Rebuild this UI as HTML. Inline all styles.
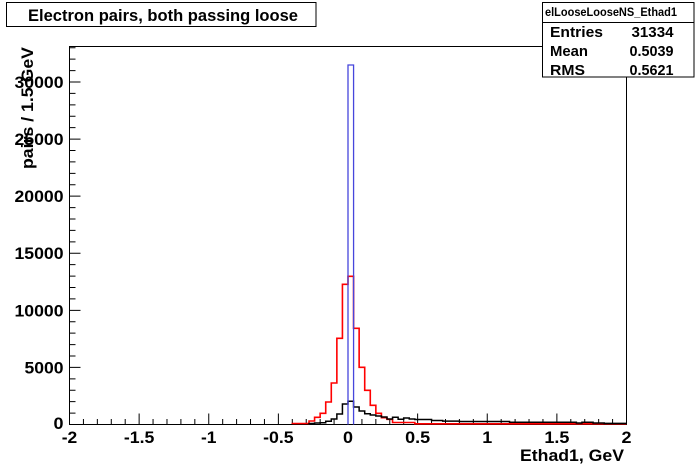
<!DOCTYPE html>
<html>
<head>
<meta charset="utf-8">
<style>
  html,body{margin:0;padding:0;background:#fff;}
  svg{display:block;}
  text{font-family:"Liberation Sans",Arial,Helvetica,sans-serif;font-weight:bold;fill:#000;}
</style>
</head>
<body>
<svg width="696" height="472" viewBox="0 0 696 472" xmlns="http://www.w3.org/2000/svg">
  <rect x="0" y="0" width="696" height="472" fill="#fff"/>

  <!-- frame -->
  <rect x="69.5" y="46.5" width="557" height="378" fill="none" stroke="#000" stroke-width="1"/>

  <!-- x ticks -->
  <path fill="none" stroke="#000" stroke-width="1" d="
    M69.5,424.5v-11 M83.43,424.5v-5.5 M97.35,424.5v-5.5 M111.28,424.5v-5.5 M125.2,424.5v-5.5
    M139.13,424.5v-11 M153.05,424.5v-5.5 M166.98,424.5v-5.5 M180.9,424.5v-5.5 M194.83,424.5v-5.5
    M208.75,424.5v-11 M222.68,424.5v-5.5 M236.6,424.5v-5.5 M250.53,424.5v-5.5 M264.45,424.5v-5.5
    M278.38,424.5v-11 M292.3,424.5v-5.5 M306.23,424.5v-5.5 M320.15,424.5v-5.5 M334.08,424.5v-5.5
    M348,424.5v-11 M361.93,424.5v-5.5 M375.85,424.5v-5.5 M389.78,424.5v-5.5 M403.7,424.5v-5.5
    M417.63,424.5v-11 M431.55,424.5v-5.5 M445.48,424.5v-5.5 M459.4,424.5v-5.5 M473.33,424.5v-5.5
    M487.25,424.5v-11 M501.18,424.5v-5.5 M515.1,424.5v-5.5 M529.03,424.5v-5.5 M542.95,424.5v-5.5
    M556.88,424.5v-11 M570.8,424.5v-5.5 M584.73,424.5v-5.5 M598.65,424.5v-5.5 M612.58,424.5v-5.5
    M626.5,424.5v-11"/>

  <!-- y ticks -->
  <path fill="none" stroke="#000" stroke-width="1" d="
    M69.5,424.5h11 M69.5,413.08h6 M69.5,401.67h6 M69.5,390.25h6 M69.5,378.83h6
    M69.5,367.42h11 M69.5,356h6 M69.5,344.58h6 M69.5,333.17h6 M69.5,321.75h6
    M69.5,310.33h11 M69.5,298.92h6 M69.5,287.5h6 M69.5,276.08h6 M69.5,264.67h6
    M69.5,253.25h11 M69.5,241.83h6 M69.5,230.42h6 M69.5,219h6 M69.5,207.58h6
    M69.5,196.17h11 M69.5,184.75h6 M69.5,173.33h6 M69.5,161.92h6 M69.5,150.5h6
    M69.5,139.08h11 M69.5,127.67h6 M69.5,116.25h6 M69.5,104.83h6 M69.5,93.42h6
    M69.5,82h11 M69.5,70.58h6 M69.5,59.17h6 M69.5,47.75h6"/>

  <!-- red histogram -->
  <path fill="none" stroke="#ff0000" stroke-width="1.6" d="M292.3,424 V423.5 H309.01 V421 H314.58 V417.3 H320.15 V413.3 H325.72 V402 H331.29 V383 H336.86 V338.3 H342.43 V284.3 H348 V276.3 H353.57 V328.3 H359.14 V367.3 H364.71 V390.3 H370.28 V405.3 H375.85 V413.3 H381.42 V417.7 H386.99 V419.3 H392.56 V422.5 H414.84 V423.8 H626.5"/>

  <!-- black histogram -->
  <path fill="none" stroke="#000" stroke-width="1.5" d="M309.01,424 V423.5 H314.58 V423 H320.15 V422.7 H325.72 V421.3 H331.29 V419 H336.86 V414 H342.43 V404 H348 V401.3 H353.57 V407 H359.14 V411 H364.71 V413.7 H370.28 V415 H375.85 V416 H381.42 V417 H386.99 V419 H392.56 V417.3 H398.13 V419.3 H403.7 V418 H409.27 V419 H414.84 V419.5 H431.55 V420.5 H442.69 V421.1 H459.4 V421.5 H509.53 V422.3 H576.37 V423 H581.94 V422.3 H593.08 V423 H604.22 V423.4 H626.5"/>

  <!-- blue histogram -->
  <path fill="none" stroke="#4646dc" stroke-width="1.3" d="M348,424.5 V65 H353.57 V424.5"/>

  <!-- y tick labels -->
  <g font-size="16.5" text-anchor="end">
    <text x="63.5" y="429" textLength="10" lengthAdjust="spacingAndGlyphs">0</text>
    <text x="63.5" y="373.4" textLength="39" lengthAdjust="spacingAndGlyphs">5000</text>
    <text x="63.5" y="316.3" textLength="49" lengthAdjust="spacingAndGlyphs">10000</text>
    <text x="63.5" y="259.2" textLength="49" lengthAdjust="spacingAndGlyphs">15000</text>
    <text x="63.5" y="202.2" textLength="49" lengthAdjust="spacingAndGlyphs">20000</text>
    <text x="63.5" y="145.1" textLength="49" lengthAdjust="spacingAndGlyphs">25000</text>
    <text x="63.5" y="88" textLength="49" lengthAdjust="spacingAndGlyphs">30000</text>
  </g>

  <!-- x tick labels -->
  <g font-size="16.5" text-anchor="middle">
    <text x="69.5" y="443" textLength="15.5" lengthAdjust="spacingAndGlyphs">-2</text>
    <text x="139.1" y="443" textLength="30.5" lengthAdjust="spacingAndGlyphs">-1.5</text>
    <text x="208.75" y="443" textLength="15.5" lengthAdjust="spacingAndGlyphs">-1</text>
    <text x="278.4" y="443" textLength="30.5" lengthAdjust="spacingAndGlyphs">-0.5</text>
    <text x="348" y="443" textLength="10" lengthAdjust="spacingAndGlyphs">0</text>
    <text x="417.6" y="443" textLength="25" lengthAdjust="spacingAndGlyphs">0.5</text>
    <text x="487.25" y="443" textLength="10" lengthAdjust="spacingAndGlyphs">1</text>
    <text x="556.9" y="443" textLength="25" lengthAdjust="spacingAndGlyphs">1.5</text>
    <text x="626.5" y="443" textLength="10" lengthAdjust="spacingAndGlyphs">2</text>
  </g>

  <!-- axis titles -->
  <text x="624" y="461" font-size="17" text-anchor="end" textLength="104" lengthAdjust="spacingAndGlyphs">Ethad1, GeV</text>
  <text transform="translate(33,169) rotate(-90)" x="0" y="0" font-size="17" textLength="122" lengthAdjust="spacingAndGlyphs">pairs / 1.5 GeV</text>

  <!-- title box -->
  <rect x="6.5" y="2.5" width="309.5" height="24" fill="#fff" stroke="#000" stroke-width="1"/>
  <text x="28" y="21" font-size="16.5" textLength="270" lengthAdjust="spacingAndGlyphs">Electron pairs, both passing loose</text>

  <!-- stats box -->
  <rect x="542.5" y="2.5" width="151.5" height="74.5" fill="#fff" stroke="#000" stroke-width="1"/>
  <line x1="542.5" y1="22.5" x2="694" y2="22.5" stroke="#000" stroke-width="1"/>
  <text x="545" y="16" font-size="11.5" textLength="132" lengthAdjust="spacingAndGlyphs">elLooseLooseNS_Ethad1</text>
  <g font-size="15">
    <text x="550" y="37" textLength="53" lengthAdjust="spacingAndGlyphs">Entries</text>
    <text x="673.5" y="37" text-anchor="end" textLength="42" lengthAdjust="spacingAndGlyphs">31334</text>
    <text x="550" y="56" textLength="38" lengthAdjust="spacingAndGlyphs">Mean</text>
    <text x="673.5" y="56" text-anchor="end" textLength="44" lengthAdjust="spacingAndGlyphs">0.5039</text>
    <text x="550" y="75" textLength="35" lengthAdjust="spacingAndGlyphs">RMS</text>
    <text x="673.5" y="75" text-anchor="end" textLength="44" lengthAdjust="spacingAndGlyphs">0.5621</text>
  </g>
</svg>
</body>
</html>
